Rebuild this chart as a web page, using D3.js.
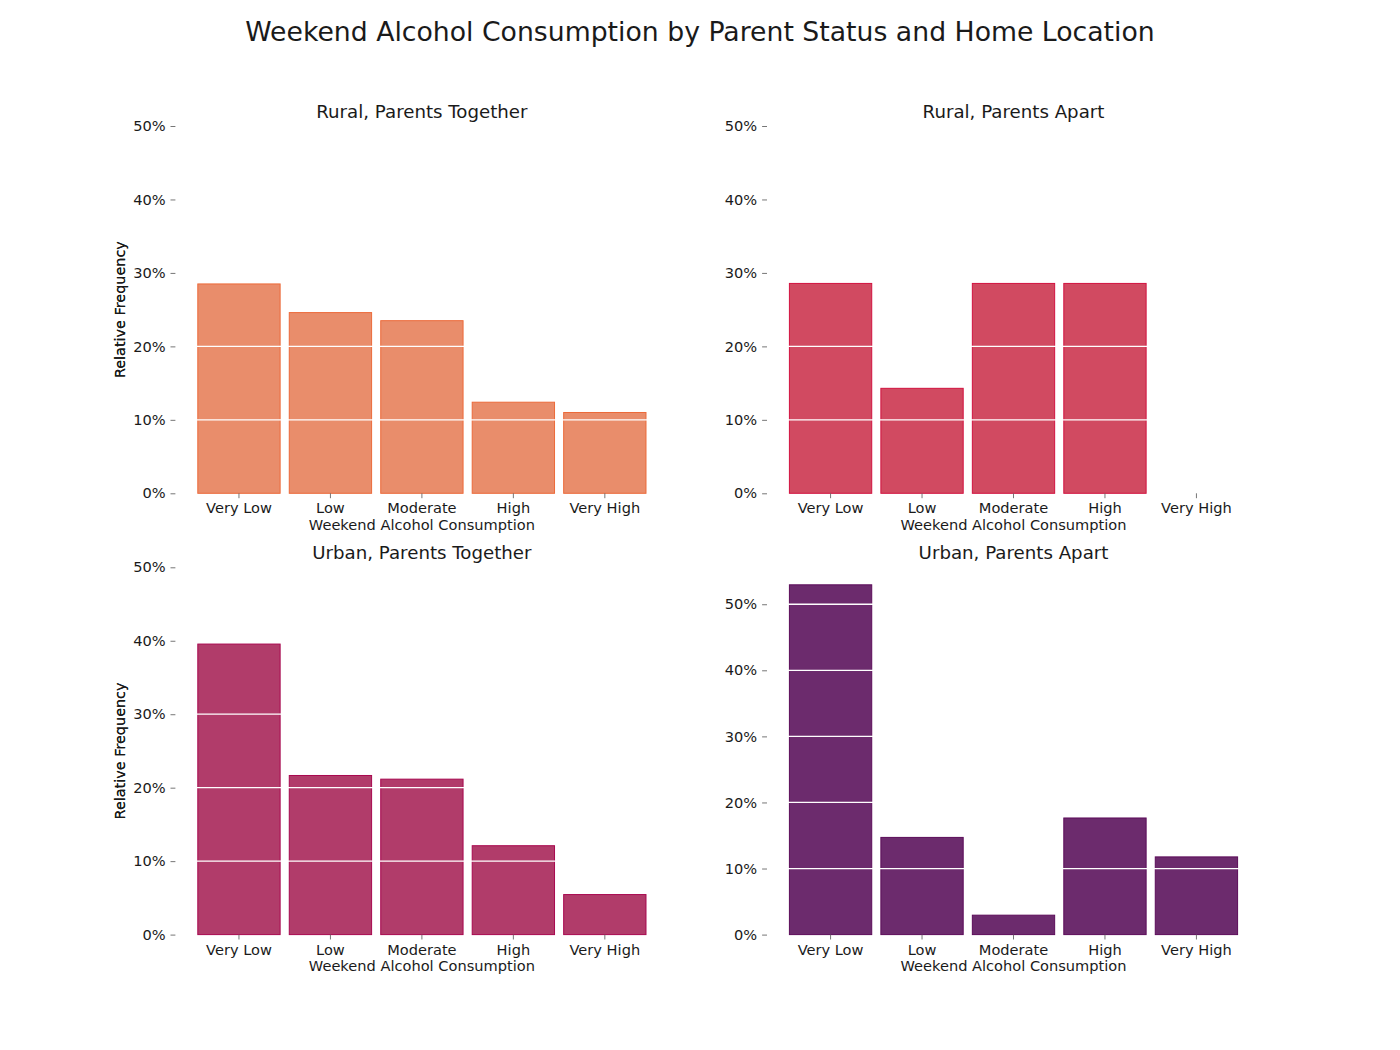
<!DOCTYPE html>
<html>
<head>
<meta charset="utf-8">
<script src="https://cdn.jsdelivr.net/npm/d3@7"></script>
<style>
  html, body { margin: 0; padding: 0; background: #fff; }
  text { font-family: "DejaVu Sans", sans-serif; fill: #1a1a1a; }
</style>
</head>
<body>
<svg id="chart" width="1400" height="1050"></svg>
<script>
// ---- data ----
const categories = ["Very Low", "Low", "Moderate", "High", "Very High"];
const panelTitles = ["Rural, Parents Together", "Rural, Parents Apart", "Urban, Parents Together", "Urban, Parents Apart"];
const ruralTogether = [0.285, 0.246, 0.235, 0.124, 0.110];
const ruralApart    = [0.2857, 0.1429, 0.2857, 0.2857, 0.0];
const urbanTogether = [0.3955, 0.2166, 0.2116, 0.121, 0.0545];
const urbanApart    = [0.5294, 0.1471, 0.0294, 0.1765, 0.1176];
const yMaxes = [0.5, 0.5, 0.5, 0.5559];
const yTicks = [0, 0.1, 0.2, 0.3, 0.4, 0.5];
const fillColors = ["#e98d6b", "#d14a61", "#b13c6a", "#6c2b6d"];
const edgeColors = ["#ec6a3a", "#d2123f", "#a8084f", "#5c0c5a"];
const suptitle = "Weekend Alcohol Consumption by Parent Status and Home Location";
const xLabel = "Weekend Alcohol Consumption";
const yLabel = "Relative Frequency";

const seriesList = [ruralTogether, ruralApart, urbanTogether, urbanApart];

// ---- layout ----
const svg = d3.select("#chart");
const axW = 493, axH = 367.3;
const lefts = [175.4, 767];
const tops = [126, 567.3];

svg.append("text")
  .attr("x", 700).attr("y", 41)
  .attr("text-anchor", "middle")
  .style("font-size", "26.7px")
  .text(suptitle);

seriesList.forEach((vals, p) => {
  const left = lefts[p % 2], top = tops[Math.floor(p / 2)];
  const g = svg.append("g").attr("transform", `translate(${left},${top})`);

  const x = d3.scaleBand().domain(categories).range([0, axW])
    .paddingInner(0.1).paddingOuter(0.245);
  const y = d3.scaleLinear().domain([0, yMaxes[p]]).range([axH, 0]);

  // bars
  g.selectAll("rect.bar")
    .data(categories.map((c, i) => ({ c, v: vals[i] })).filter(d => d.v > 0))
    .join("rect")
    .attr("class", "bar")
    .attr("x", d => x(d.c))
    .attr("width", x.bandwidth())
    .attr("y", d => y(d.v))
    .attr("height", d => y(0) - y(d.v))
    .attr("fill", fillColors[p])
    .attr("stroke", edgeColors[p])
    .attr("stroke-width", 1);

  // white grid lines on top
  g.selectAll("line.grid")
    .data(yTicks.filter(t => t > 0 && t <= yMaxes[p]))
    .join("line")
    .attr("class", "grid")
    .attr("x1", 0).attr("x2", axW)
    .attr("y1", d => y(d)).attr("y2", d => y(d))
    .attr("stroke", "#fff")
    .attr("stroke-width", 1.3);

  // y axis
  const yAxis = g.append("g")
    .call(d3.axisLeft(y).tickValues(yTicks.filter(t => t <= yMaxes[p]))
      .tickFormat(d3.format(".0%")).tickSize(4.9).tickPadding(4.9));
  yAxis.select(".domain").remove();
  yAxis.selectAll(".tick line").attr("stroke", "#666").attr("stroke-width", 0.9);
  yAxis.selectAll(".tick text").style("font-size", "14.6px").attr("fill", "#1a1a1a")
    .attr("font-family", null);

  // x axis
  const xAxis = g.append("g").attr("transform", `translate(0,${axH})`)
    .call(d3.axisBottom(x).tickSize(4.9).tickPadding(4.9));
  xAxis.select(".domain").remove();
  xAxis.selectAll(".tick line").attr("stroke", "#666").attr("stroke-width", 0.9);
  xAxis.selectAll(".tick text").style("font-size", "14.6px").attr("fill", "#1a1a1a")
    .attr("font-family", null);

  // titles / labels
  g.append("text")
    .attr("x", axW / 2).attr("y", -8.3)
    .attr("text-anchor", "middle")
    .style("font-size", "18.2px")
    .text(panelTitles[p]);

  g.append("text")
    .attr("x", axW / 2).attr("y", axH + 36.5)
    .attr("text-anchor", "middle")
    .style("font-size", "14.6px")
    .text(xLabel);

  g.append("text")
    .attr("transform", `translate(${125 - left},${axH / 2}) rotate(-90)`)
    .attr("text-anchor", "middle")
    .style("font-size", "14.4px")
    .text(yLabel);
});
</script>
</body>
</html>
